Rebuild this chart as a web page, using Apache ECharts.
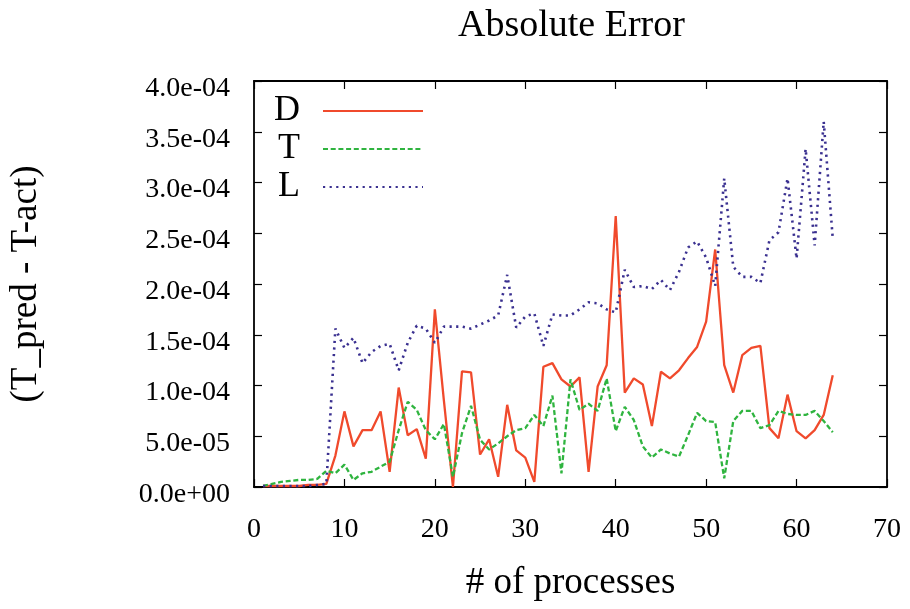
<!DOCTYPE html>
<html>
<head>
<meta charset="utf-8">
<script src="https://cdn.jsdelivr.net/npm/echarts@6/dist/echarts.min.js"></script>
<style>
  html, body { margin: 0; padding: 0; background: #fff; }
  #chart { width: 910px; height: 609px; }
</style>
</head>
<body>
<div id="chart"></div>
<script>
// number of processes (x)
var procs = [1, 2, 3, 4, 5, 6, 7, 8, 9, 10, 11, 12, 13, 14, 15, 16,
  17, 18, 19, 20, 21, 22, 23, 24, 25, 26, 27, 28, 29, 30, 31, 32,
  33, 34, 35, 36, 37, 38, 39, 40, 41, 42, 43, 44, 45, 46, 47, 48,
  49, 50, 51, 52, 53, 54, 55, 56, 57, 58, 59, 60, 61, 62, 63, 64];

// absolute error, series D
var errD = [0.1e-5, 0.1e-5, 0.1e-5, 0.1e-5, 0.1e-5, 0.2e-5, 0.2e-5, 0.3e-5,
  3.1e-5, 7.45e-5, 4.0e-5, 5.6e-5, 5.6e-5, 7.45e-5, 1.5e-5, 9.8e-5,
  5.1e-5, 5.7e-5, 2.8e-5, 17.5e-5, 8.5e-5, 0.0, 11.4e-5, 11.3e-5,
  3.2e-5, 4.7e-5, 1.0e-5, 8.1e-5, 3.6e-5, 2.9e-5, 0.5e-5, 11.85e-5,
  12.2e-5, 10.6e-5, 9.9e-5, 10.8e-5, 1.5e-5, 9.9e-5, 12.0e-5, 26.7e-5,
  9.3e-5, 10.7e-5, 10.1e-5, 6.0e-5, 11.35e-5, 10.7e-5, 11.5e-5, 12.7e-5,
  13.8e-5, 16.3e-5, 23.4e-5, 12.0e-5, 9.3e-5, 13.0e-5, 13.7e-5, 13.9e-5,
  5.8e-5, 4.8e-5, 9.1e-5, 5.5e-5, 4.8e-5, 5.6e-5, 7.1e-5, 11.0e-5];

// absolute error, series T
var errT = [0.1e-5, 0.3e-5, 0.5e-5, 0.6e-5, 0.7e-5, 0.7e-5, 0.8e-5, 1.6e-5,
  1.35e-5, 2.2e-5, 0.7e-5, 1.35e-5, 1.5e-5, 2.0e-5, 2.5e-5, 5.6e-5,
  8.4e-5, 7.6e-5, 5.6e-5, 4.7e-5, 6.2e-5, 1.0e-5, 5.3e-5, 8.0e-5,
  4.65e-5, 3.7e-5, 4.3e-5, 5.0e-5, 5.6e-5, 5.8e-5, 7.1e-5, 6.0e-5,
  9.0e-5, 1.35e-5, 10.6e-5, 7.6e-5, 8.2e-5, 7.5e-5, 10.7e-5, 5.5e-5,
  7.9e-5, 6.6e-5, 4.0e-5, 2.9e-5, 3.7e-5, 3.3e-5, 3.0e-5, 5.1e-5,
  7.3e-5, 6.5e-5, 6.4e-5, 0.85e-5, 6.5e-5, 7.5e-5, 7.5e-5, 5.8e-5,
  6.1e-5, 7.5e-5, 7.2e-5, 7.1e-5, 7.1e-5, 7.5e-5, 6.5e-5, 5.4e-5];

// absolute error, series L
var errL = [0.1e-5, 0.1e-5, 0.1e-5, 0.1e-5, 0.1e-5, 0.1e-5, 0.2e-5, 0.3e-5,
  15.6e-5, 13.7e-5, 14.7e-5, 12.2e-5, 13.3e-5, 13.9e-5, 14.1e-5, 11.5e-5,
  14.2e-5, 15.9e-5, 15.6e-5, 14.2e-5, 15.8e-5, 15.8e-5, 15.8e-5, 15.6e-5,
  16.0e-5, 16.4e-5, 16.9e-5, 20.9e-5, 15.7e-5, 16.8e-5, 17.1e-5, 13.9e-5,
  17.0e-5, 16.9e-5, 16.9e-5, 17.5e-5, 18.2e-5, 18.1e-5, 17.5e-5, 17.2e-5,
  21.4e-5, 19.7e-5, 19.8e-5, 19.5e-5, 20.4e-5, 19.4e-5, 21.2e-5, 23.6e-5,
  24.2e-5, 22.6e-5, 19.8e-5, 30.4e-5, 21.7e-5, 20.7e-5, 20.7e-5, 20.1e-5,
  24.3e-5, 25.1e-5, 30.4e-5, 22.5e-5, 33.3e-5, 23.8e-5, 36.0e-5, 24.5e-5];

var seriesNames = ['D', 'T', 'L'];
var seriesColors = ['#f04a2c', '#2fb43f', '#3a3090'];

var FONT = '"Liberation Serif", "Times New Roman", serif';

// gnuplot-like 4.0e-04 labels
function expLabel(v) {
  var s = Number(v).toExponential(1);
  var parts = s.split('e');
  var sign = parts[1].charAt(0);
  var digits = parts[1].slice(1);
  if (digits.length < 2) digits = '0' + digits;
  return parts[0] + 'e' + sign + digits;
}

function pairs(ys) {
  var out = [];
  for (var i = 0; i < procs.length; i++) out.push([procs[i], ys[i]]);
  return out;
}

var chart = echarts.init(document.getElementById('chart'), null, { renderer: 'canvas' });

var frameLine = { show: true, onZero: false, lineStyle: { color: '#000', width: 1.8 } };
var innerTick = { show: true, inside: true, length: 8, lineStyle: { color: '#000', width: 1.2 } };

var option = {
  backgroundColor: '#fff',
  animation: false,
  title: {
    text: 'Absolute Error',
    left: 453,
    top: 2,
    textStyle: { fontFamily: FONT, fontSize: 38, fontWeight: 'normal', color: '#000' }
  },
  legend: {
    orient: 'vertical',
    left: 269,
    top: 88,
    align: 'right',
    itemWidth: 100,
    itemHeight: 14,
    itemGap: 2,
    data: seriesNames,
    itemStyle: { opacity: 0 },
    textStyle: { fontFamily: FONT, fontSize: 36, color: '#000', padding: [0, 18, 0, 0] }
  },
  grid: { left: 254, right: 23, top: 81, bottom: 122 },
  xAxis: [{
    type: 'value',
    min: 0, max: 70, interval: 10,
    name: '# of processes',
    nameLocation: 'middle',
    nameGap: 78,
    nameTextStyle: { fontFamily: FONT, fontSize: 37, color: '#000' },
    axisLine: frameLine,
    axisTick: innerTick,
    axisLabel: { margin: 29, fontFamily: FONT, fontSize: 28, color: '#000' },
    splitLine: { show: false }
  }, {
    type: 'value',
    position: 'top',
    min: 0, max: 70, interval: 10,
    axisLine: frameLine,
    axisTick: innerTick,
    axisLabel: { show: false },
    splitLine: { show: false }
  }],
  yAxis: [{
    type: 'value',
    min: 0, max: 4e-4, interval: 5e-5,
    name: '(T_pred - T-act)',
    nameLocation: 'middle',
    nameRotate: 90,
    nameGap: 209,
    nameTextStyle: { fontFamily: FONT, fontSize: 37, color: '#000' },
    axisLine: frameLine,
    axisTick: innerTick,
    axisLabel: {
      margin: 24, fontFamily: FONT, fontSize: 28, color: '#000',
      verticalAlign: 'top',
      lineHeight: 15,
      formatter: expLabel
    },
    splitLine: { show: false }
  }, {
    type: 'value',
    position: 'right',
    min: 0, max: 4e-4, interval: 5e-5,
    axisLine: frameLine,
    axisTick: innerTick,
    axisLabel: { show: false },
    splitLine: { show: false }
  }],
  series: [{
    name: seriesNames[0],
    type: 'line',
    symbol: 'none',
    data: pairs(errD),
    lineStyle: { color: seriesColors[0], width: 2.3, type: 'solid' },
    itemStyle: { color: seriesColors[0] }
  }, {
    name: seriesNames[1],
    type: 'line',
    symbol: 'none',
    data: pairs(errT),
    lineStyle: { color: seriesColors[1], width: 2.3, type: [5, 2.7] },
    itemStyle: { color: seriesColors[1] }
  }, {
    name: seriesNames[2],
    type: 'line',
    symbol: 'none',
    data: pairs(errL),
    lineStyle: { color: seriesColors[2], width: 2.6, type: [2.2, 4.4] },
    itemStyle: { color: seriesColors[2] }
  }]
};

chart.setOption(option);
</script>
</body>
</html>
